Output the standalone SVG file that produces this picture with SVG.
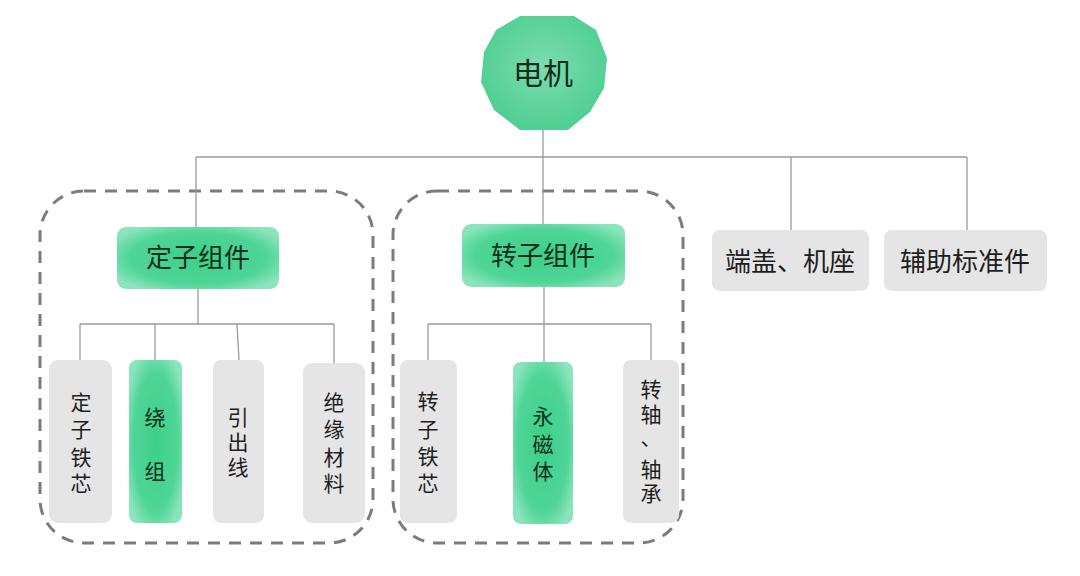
<svg xmlns="http://www.w3.org/2000/svg" width="1080" height="576" viewBox="0 0 1080 576">
<defs>
<radialGradient id="g" cx="50%" cy="50%" r="60%">
<stop offset="0" stop-color="#3ccf88"/>
<stop offset="0.7" stop-color="#4fd597"/>
<stop offset="1" stop-color="#8be4bb"/>
</radialGradient>
<radialGradient id="gTop" cx="50%" cy="45%" r="55%">
<stop offset="0" stop-color="#7ddcb0"/>
<stop offset="1" stop-color="#4fcf92"/>
</radialGradient>
<style>
.t{font-family:"Noto Sans CJK SC","Noto Sans",sans-serif;fill:#1e1e1e;text-anchor:middle}
.tg{fill:#0f2e1e}
.v{font-size:21px}
.grey{fill:#e5e5e6}
.green{fill:url(#g)}
.ln{stroke:#9a9a9a;stroke-width:1.3;fill:none}
.dash{stroke:#7c7c7c;stroke-width:3;fill:none;stroke-dasharray:12 9}
</style>
</defs>
<rect width="1080" height="576" fill="#ffffff"/>
<g id="groups">
<rect class="dash" x="40" y="191" width="333" height="352" rx="44"/>
<rect class="dash" x="393" y="191" width="290" height="352" rx="44"/>
</g>
<g id="connectors">
<path class="ln" d="M543 130V224 M196 157H967 M196 157V227 M791 157V230 M967 157V230"/>
<path class="ln" d="M198 289V324 M80 324H334 M80 324V360 M155 324V360 M237 324L239 360 M334 324V363"/>
<path class="ln" d="M544 287V324 M428 324H651 M428 324V360 M544 324V362 M651 324V360"/>
</g>
<g id="motor">
<polygon points="520,16 574,16 596,30 607,58 604,88 590,112 568,130 520,130 494,110 481,82 484,52 496,30" fill="url(#gTop)"/>
<text class="t tg" x="543" y="84" font-size="30">电机</text>
</g>
<g id="stator">
<rect class="green" x="117" y="227" width="162" height="62" rx="9"/>
<text class="t tg" x="198" y="267" font-size="26">定子组件</text>
</g>
<g id="rotor">
<rect class="green" x="462" y="224" width="163" height="63" rx="9"/>
<text class="t tg" x="543" y="265" font-size="26">转子组件</text>
</g>
<g id="endcap">
<rect class="grey" x="712" y="230" width="157" height="61" rx="8"/>
<text class="t" x="790" y="271" font-size="26">端盖、机座</text>
</g>
<g id="aux">
<rect class="grey" x="884" y="230" width="163" height="61" rx="8"/>
<text class="t" x="965" y="271" font-size="26">辅助标准件</text>
</g>
<g id="statorCore">
<rect class="grey" x="49" y="360" width="63" height="163" rx="9"/>
<text class="t v"><tspan x="81" y="410">定</tspan><tspan x="81" y="437">子</tspan><tspan x="81" y="465">铁</tspan><tspan x="81" y="491">芯</tspan></text>
</g>
<g id="winding">
<rect class="green" x="129" y="360" width="53" height="163" rx="8"/>
<text class="t tg v"><tspan x="155" y="425">绕</tspan><tspan x="155" y="479">组</tspan></text>
</g>
<g id="lead">
<rect class="grey" x="213" y="360" width="51" height="163" rx="8"/>
<text class="t v"><tspan x="238" y="425">引</tspan><tspan x="238" y="450">出</tspan><tspan x="238" y="475">线</tspan></text>
</g>
<g id="insulation">
<rect class="grey" x="303" y="363" width="62" height="160" rx="9"/>
<text class="t v"><tspan x="334" y="410">绝</tspan><tspan x="334" y="437">缘</tspan><tspan x="334" y="465">材</tspan><tspan x="334" y="491">料</tspan></text>
</g>
<g id="rotorCore">
<rect class="grey" x="400" y="360" width="57" height="163" rx="8"/>
<text class="t v"><tspan x="428" y="409">转</tspan><tspan x="428" y="437">子</tspan><tspan x="428" y="464">铁</tspan><tspan x="428" y="491">芯</tspan></text>
</g>
<g id="magnet">
<rect class="green" x="513" y="362" width="60" height="162" rx="8"/>
<text class="t tg v"><tspan x="543" y="424">永</tspan><tspan x="543" y="452">磁</tspan><tspan x="543" y="479">体</tspan></text>
</g>
<g id="shaft">
<rect class="grey" x="623" y="360" width="56" height="163" rx="8"/>
<text class="t v"><tspan x="651" y="397">转</tspan><tspan x="651" y="422">轴</tspan><tspan x="651" y="445">、</tspan><tspan x="651" y="477">轴</tspan><tspan x="651" y="501">承</tspan></text>
</g>
</svg>
